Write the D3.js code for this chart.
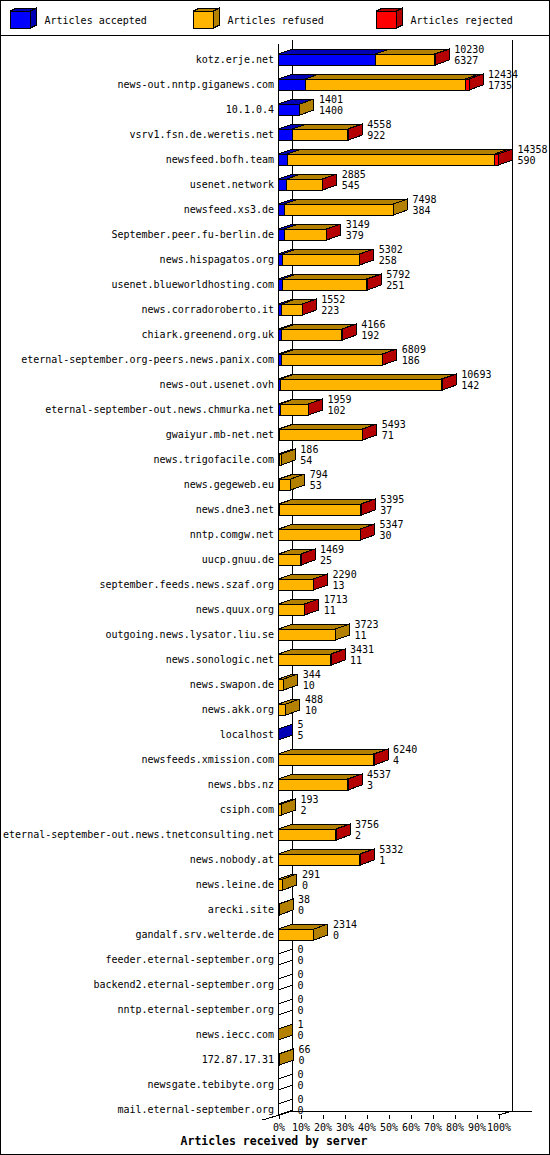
<!DOCTYPE html>
<html>
<head>
<meta charset="utf-8">
<script src="https://cdn.jsdelivr.net/npm/d3@7"></script>
<style>
body { margin: 0; background: #fff; }
svg text { font-family: "DejaVu Sans Mono", monospace; font-size: 10px; fill: #000; }
</style>
</head>
<body>
<svg id="chart" width="550" height="1155"></svg>
<script>
// values
var servers = ["kotz.erje.net", "news-out.nntp.giganews.com", "10.1.0.4", "vsrv1.fsn.de.weretis.net",
	"newsfeed.bofh.team", "usenet.network", "newsfeed.xs3.de", "September.peer.fu-berlin.de",
	"news.hispagatos.org", "usenet.blueworldhosting.com", "news.corradoroberto.it", "chiark.greenend.org.uk",
	"eternal-september.org-peers.news.panix.com", "news-out.usenet.ovh", "eternal-september-out.news.chmurka.net",
	"gwaiyur.mb-net.net", "news.trigofacile.com", "news.gegeweb.eu", "news.dne3.net", "nntp.comgw.net",
	"uucp.gnuu.de", "september.feeds.news.szaf.org", "news.quux.org", "outgoing.news.lysator.liu.se",
	"news.sonologic.net", "news.swapon.de", "news.akk.org", "localhost", "newsfeeds.xmission.com",
	"news.bbs.nz", "csiph.com", "eternal-september-out.news.tnetconsulting.net", "news.nobody.at",
	"news.leine.de", "arecki.site", "gandalf.srv.welterde.de", "feeder.eternal-september.org",
	"backend2.eternal-september.org", "nntp.eternal-september.org", "news.iecc.com", "172.87.17.31",
	"newsgate.tebibyte.org", "mail.eternal-september.org"];
var received = [10230, 12434, 1401, 4558, 14358, 2885, 7498, 3149, 5302, 5792, 1552, 4166, 6809, 10693, 1959,
	5493, 186, 794, 5395, 5347, 1469, 2290, 1713, 3723, 3431, 344, 488, 5, 6240, 4537, 193, 3756, 5332,
	291, 38, 2314, 0, 0, 0, 1, 66, 0, 0];
var accepted = [6327, 1735, 1400, 922, 590, 545, 384, 379, 258, 251, 223, 192, 186, 142, 102,
	71, 54, 53, 37, 30, 25, 13, 11, 11, 11, 10, 10, 5, 4, 3, 2, 2, 1,
	0, 0, 0, 0, 0, 0, 0, 0, 0, 0];
var rejected = [40, 250, 0, 35, 240, 20, 0, 30, 25, 40, 15, 30, 45, 60, 20,
	35, 0, 0, 30, 25, 15, 20, 15, 0, 25, 0, 0, 0, 35, 30, 0, 25, 30,
	0, 0, 0, 0, 0, 0, 0, 0, 0, 0];
var seriesNames = ["Articles accepted", "Articles refused", "Articles rejected"];
var pctTicks = [0, 10, 20, 30, 40, 50, 60, 70, 80, 90, 100];

var fronts = ["#0000ff", "#ffb400", "#ff0000"];
var darks = ["#0000b4", "#b48000", "#b40000"];

var depth = {x: 14, y: -5};
var barH = 11;
var floorY = 1115;

var svg = d3.select("#chart").attr("shape-rendering", "crispEdges");

var rows = servers.map(function(s, i) {
	return {name: s, total: received[i], acc: accepted[i],
		parts: [accepted[i], received[i] - accepted[i] - rejected[i], rejected[i]]};
});

var maxTotal = d3.max(received);
var x = d3.scaleLinear().domain([0, maxTotal]).range([278.5, 498.5]);
var pct = d3.scaleLinear().domain([0, 100]).range(x.range());
var y = d3.scalePoint().domain(servers).range([59.5, 1109.5]);
var x0 = x(0);

function poly(g, pts, fill) {
	g.append("polygon")
		.attr("points", pts.map(function(p) { return p.join(","); }).join(" "))
		.attr("fill", fill)
		.attr("stroke", "#000");
}

// frame and legend
svg.append("rect").attr("x", 0.5).attr("y", 0.5).attr("width", 549).attr("height", 1154)
	.attr("fill", "none").attr("stroke", "#000");
svg.append("line").attr("x1", 0).attr("x2", 550).attr("y1", 35.5).attr("y2", 35.5).attr("stroke", "#000");

var legendX = [10.5, 193.5, 376.5];
seriesNames.forEach(function(name, k) {
	var lg = svg.append("g");
	var lx = legendX[k], ly = 11, w = 20, h = 17, ddx = 6, ddy = -3;
	poly(lg, [[lx, ly], [lx + w, ly], [lx + w + ddx, ly + ddy], [lx + ddx, ly + ddy]], darks[k]);
	poly(lg, [[lx + w, ly], [lx + w + ddx, ly + ddy], [lx + w + ddx, ly + h + ddy], [lx + w, ly + h]], darks[k]);
	lg.append("rect").attr("x", lx).attr("y", ly).attr("width", w).attr("height", h)
		.attr("fill", fronts[k]).attr("stroke", "#000");
	lg.append("text").attr("x", lx + 34).attr("y", 20).attr("dy", "0.35em").text(name);
});

// grid walls
var grid = svg.append("g").attr("stroke", "#000");
grid.append("line").attr("x1", x0).attr("x2", x0).attr("y1", 44).attr("y2", floorY);
grid.append("line").attr("x1", x0 + depth.x).attr("x2", x0 + depth.x).attr("y1", 40).attr("y2", floorY + depth.y + 1);
grid.append("line").attr("x1", x(maxTotal) + depth.x).attr("x2", x(maxTotal) + depth.x).attr("y1", 40).attr("y2", floorY + depth.y + 1);
grid.append("line").attr("x1", x0 + depth.x).attr("x2", 532).attr("y1", floorY + depth.y + 1).attr("y2", floorY + depth.y + 1);
grid.append("line").attr("x1", x0 - 16).attr("y1", floorY + 5).attr("x2", x0 + depth.x).attr("y2", floorY + depth.y + 1);
grid.append("line").attr("x1", x(maxTotal)).attr("y1", floorY).attr("x2", x(maxTotal) + depth.x).attr("y2", floorY + depth.y + 1);

// bars
var bars = svg.append("g");
rows.forEach(function(r) {
	var g = bars.append("g");
	var t = y(r.name) - barH / 2, b = t + barH;
	var cum = 0, segs = [];
	r.parts.forEach(function(v, k) {
		if (v > 0) segs.push({k: k, a: cum, b: cum + v});
		cum += v;
	});
	if (!segs.length) {
		poly(g, [[x0, t], [x0 + depth.x, t + depth.y], [x0 + depth.x, b + depth.y], [x0, b]], "#fff");
	} else {
		segs.forEach(function(s) {
			var xa = x(s.a), xb = x(s.b);
			poly(g, [[xa, t], [xb, t], [xb + depth.x, t + depth.y], [xa + depth.x, t + depth.y]], darks[s.k]);
			g.append("rect").attr("x", xa).attr("y", t).attr("width", xb - xa).attr("height", barH)
				.attr("fill", fronts[s.k]).attr("stroke", "#000");
		});
		var last = segs[segs.length - 1], xe = x(last.b);
		poly(g, [[xe, t], [xe + depth.x, t + depth.y], [xe + depth.x, b + depth.y], [xe, b]], darks[last.k]);
	}
	g.append("text").attr("x", x(r.total) + 19).attr("y", y(r.name) - 10).attr("dy", "0.35em").text(r.total);
	g.append("text").attr("x", x(r.total) + 19).attr("y", y(r.name) + 1).attr("dy", "0.35em").text(r.acc);
	g.append("text").attr("x", 274).attr("y", y(r.name)).attr("dy", "0.35em")
		.attr("text-anchor", "end").text(r.name);
});

// percentage axis
var axis = svg.append("g").attr("transform", "translate(0," + floorY + ")")
	.call(d3.axisBottom(pct).tickValues(pctTicks).tickSize(4).tickPadding(5)
		.tickFormat(function(d) { return d + "%"; }));
axis.select(".domain").remove();
axis.selectAll("text").attr("font-family", null).attr("font-size", null);

svg.append("text").attr("x", 274).attr("y", 1141).attr("dy", "0.35em").attr("text-anchor", "middle")
	.style("font-weight", "bold").style("font-size", "11.5px").text("Articles received by server");
</script>
</body>
</html>
